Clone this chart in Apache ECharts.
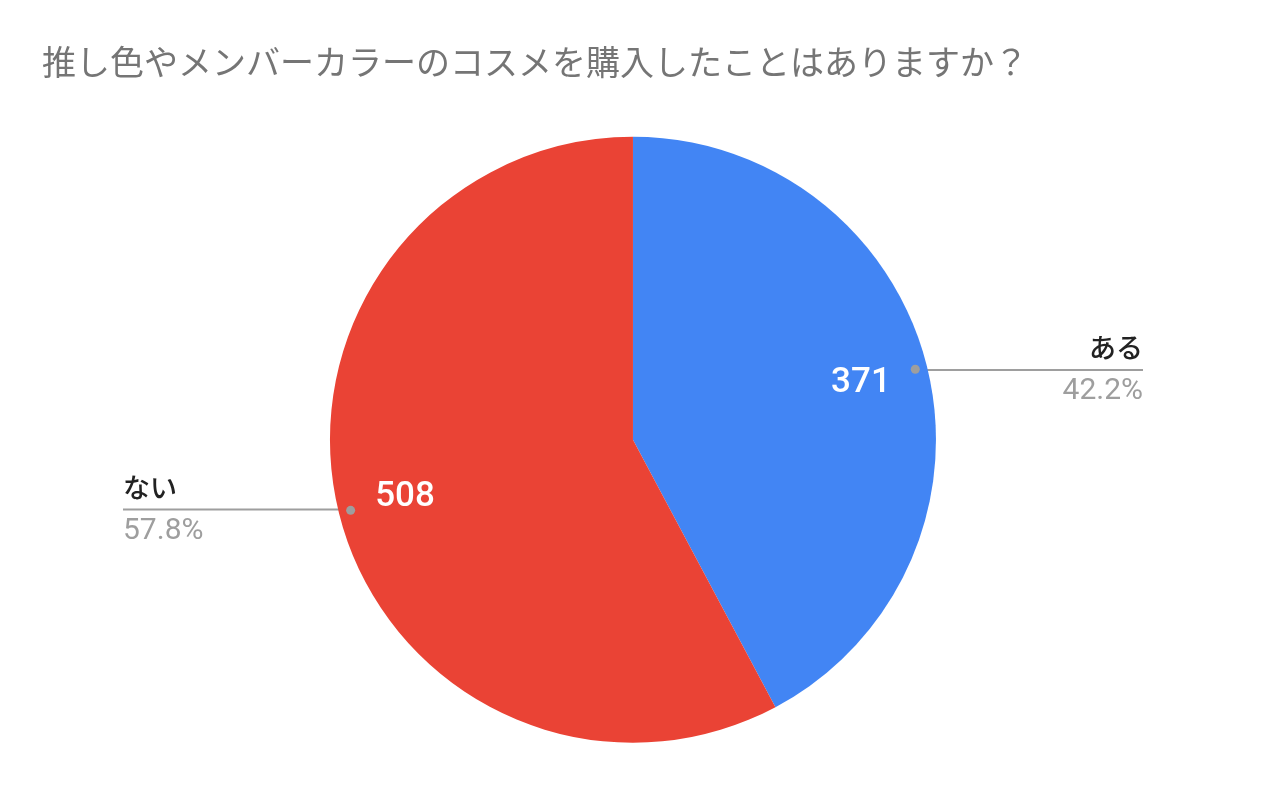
<!DOCTYPE html>
<html><head><meta charset="utf-8">
<script src="https://cdn.jsdelivr.net/npm/echarts@6/dist/echarts.min.js"></script>
<style>html,body{margin:0;padding:0;background:#fff}#c{width:1280px;height:791px}</style>
</head><body><div id="c"></div>
<script>
const titleText = '推し色やメンバーカラーのコスメを購入したことはありますか？';
const categories = ['ある', 'ない'];
const values = [371, 508];
const colors = ['#4285F4', '#EA4335'];

const chart = echarts.init(document.getElementById('c'), null, {renderer: 'canvas'});
const W = chart.getWidth();
const center = ['49.45%', '55.6%'];
const R = 303;
const clear = 'rgba(0,0,0,0)';
const data = categories.map((n, i) => ({name: n, value: values[i]}));
const base = {type: 'pie', center: center, startAngle: 90, clockwise: true, percentPrecision: 1,
  emphasis: {disabled: true, scale: false}, silent: true, animation: false};

const option = {
  backgroundColor: '#fff',
  title: {text: titleText, left: 37, top: 40,
    textStyle: {fontSize: 34, color: '#757575', fontWeight: 'normal', fontFamily: '"Noto Sans CJK JP", sans-serif'}},
  series: [
    Object.assign({}, base, {
      radius: [0, R], data: data, label: {show: false}, labelLine: {show: false},
      itemStyle: {color: p => colors[p.dataIndex], borderWidth: 0}
    }),
    Object.assign({}, base, {
      radius: [172, 292], data: data, itemStyle: {color: clear},
      label: {show: true, position: 'inside', formatter: '{c}', color: '#fff', fontSize: 35,
        fontFamily: 'Roboto, Arial, sans-serif', fontWeight: 500},
      labelLine: {show: false}
    }),
    Object.assign({}, base, {
      radius: [0, 288], data: data, itemStyle: {color: clear},
      label: {show: true, position: 'outside', formatter: '{n|{b}}\n{p|{d}%}',
        rich: {
          n: {fontSize: 27, color: '#222', lineHeight: 44, fontWeight: 500, fontFamily: '"Noto Sans CJK JP", sans-serif'},
          p: {fontSize: 30, color: '#9e9e9e', lineHeight: 44, fontFamily: 'Roboto, Arial, sans-serif'}
        }},
      labelLine: {show: true, length: 10, length2: 100, lineStyle: {color: '#9e9e9e', width: 2}},
      labelLayout: function (p) {
        const pts = p.labelLinePoints;
        if (!pts) return {};
        const s = pts[0];
        const right = pts[pts.length - 1][0] > s[0];
        const ex = right ? W - 137 : 123;
        return {x: ex, y: s[1], align: right ? 'right' : 'left', verticalAlign: 'middle',
          labelLinePoints: [[s[0], s[1]], [(s[0] + ex) / 2, s[1]], [ex, s[1]]]};
      }
    }),
    Object.assign({}, base, {
      radius: [258, 318], data: data, itemStyle: {color: clear},
      label: {show: true, position: 'inside', formatter: '{a| }',
        rich: {a: {width: 9, height: 9, borderRadius: 4.5, backgroundColor: '#9e9e9e'}}},
      labelLine: {show: false}
    })
  ]
};
chart.setOption(option);
</script></body></html>
